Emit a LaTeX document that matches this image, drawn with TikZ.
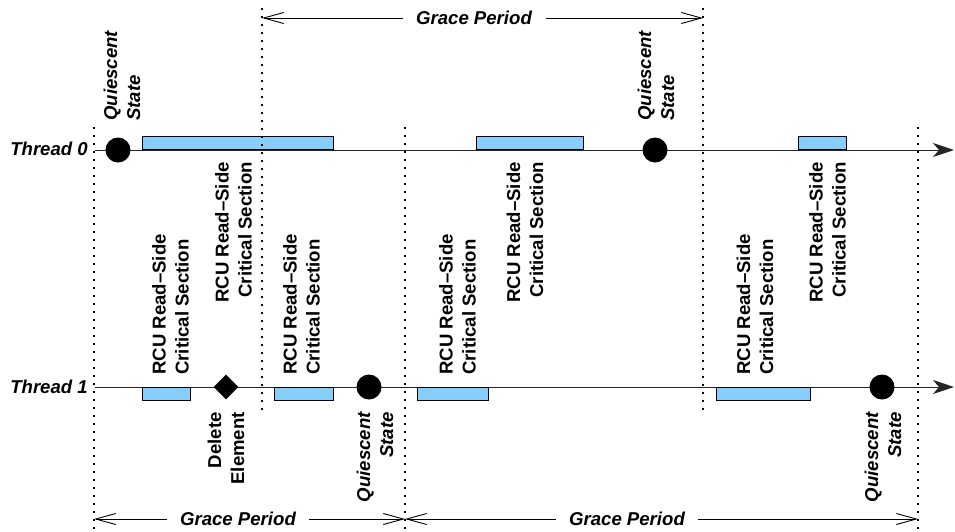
\documentclass[tikz,border=0pt]{standalone}
\usepackage{fontspec}
\setmainfont{Liberation Sans}
\usetikzlibrary{arrows.meta,shapes.geometric}
\definecolor{rcublue}{RGB}{135,206,250}

\begin{document}
\begin{tikzpicture}[x=1pt,y=-1pt,
  txt/.style={font=\fontsize{18.6}{23}\selectfont\bfseries, inner sep=0pt},
  itxt/.style={font=\fontsize{18.6}{23}\selectfont\bfseries\itshape, inner sep=0pt},
  timeline/.style={line width=1pt, draw=black!85, -{Stealth[length=21pt,width=14pt,inset=6pt]}},
  guide/.style={line width=1.8pt, dash pattern=on 1.6pt off 6.4pt},
  period/.style={line width=0.9pt, -{Straight Barb[length=20pt,width=11pt,line width=0.9pt]}},
  section/.style={draw, line width=0.9pt, fill=rcublue, minimum height=13pt, inner sep=0pt},
  qstate/.style={circle, fill=black, minimum size=25pt, inner sep=0pt},
  delete/.style={diamond, fill=black, minimum size=25pt, inner sep=0pt},
  upperlbl/.style={txt, rotate=90, anchor=east, align=right},
  lowerlbl/.style={txt, rotate=90, anchor=west, align=left}]

\useasboundingbox (0,0) rectangle (955,531);

% thread time lines
\node[itxt, anchor=east] (t0) at (88,149) {Thread 0};
\node[itxt, anchor=east] (t1) at (88,387) {Thread 1};
\coordinate (t0end) at (954,150);
\coordinate (t1end) at (954,387);
\draw[timeline, shorten <=7pt] (t0.east |- t0end) -- (t0end);
\draw[timeline, shorten <=7pt] (t1.east |- t1end) -- (t1end);

% read-side critical sections on thread 0 (above the line)
\node[section, minimum width=191pt, anchor=south west] (s0a) at (142,150) {};
\node[section, minimum width=107pt, anchor=south west] (s0b) at (476,150) {};
\node[section, minimum width=48pt,  anchor=south west] (s0c) at (798,150) {};

% read-side critical sections on thread 1 (below the line)
\node[section, minimum width=48pt, anchor=north west] (s1a) at (142,387) {};
\node[section, minimum width=59pt, anchor=north west] (s1b) at (274,387) {};
\node[section, minimum width=71pt, anchor=north west] (s1c) at (417,387) {};
\node[section, minimum width=94pt, anchor=north west] (s1d) at (716,387) {};

% quiescent states and the deletion
\node[qstate] (q0a) at (118,150) {};
\node[qstate] (q0b) at (655,150) {};
\node[qstate] (q1a) at (369,387) {};
\node[qstate] (q1b) at (882,387) {};
\node[delete] (del) at (226,387) {};

% labels of the events
\node[itxt, rotate=90, anchor=west, align=left] (lq0a) at (122,121) {Quiescent\\State};
\node[itxt, rotate=90, anchor=west, align=left] (lq0b) at (656,121) {Quiescent\\State};
\node[itxt, rotate=90, anchor=east, align=right] (lq1a) at (375,412) {Quiescent\\State};
\node[itxt, rotate=90, anchor=east, align=right] (lq1b) at (883,412) {Quiescent\\State};
\node[txt, rotate=90, anchor=east, align=right] (ldel) at (226,412) {Delete\\Element};

% labels of the critical sections
\node[upperlbl] (ls0a) at (233.5,162) {RCU Read–Side\\Critical Section};
\node[upperlbl] (ls0b) at (525,162) {RCU Read–Side\\Critical Section};
\node[upperlbl] (ls0c) at (827.5,162) {RCU Read–Side\\Critical Section};
\node[lowerlbl] (ls1a) at (170.5,375) {RCU Read–Side\\Critical Section};
\node[lowerlbl] (ls1b) at (301.5,375) {RCU Read–Side\\Critical Section};
\node[lowerlbl] (ls1c) at (457.5,375) {RCU Read–Side\\Critical Section};
\node[lowerlbl] (ls1d) at (755,375) {RCU Read–Side\\Critical Section};

% grace period boundaries
\draw[guide] (94,127) -- (94,531);
\draw[guide] (262,8) -- (262,412);
\draw[guide] (405,127) -- (405,531);
\draw[guide] (703,8) -- (703,412);
\draw[guide] (918,127) -- (918,531);

% grace periods
\coordinate (gpA) at (262,18);
\coordinate (gpB) at (703,18);
\coordinate (gpC) at (94,519);
\coordinate (gpD) at (405,519);
\coordinate (gpE) at (918,519);
\node[itxt] (g0) at (474,18) {Grace Period};
\node[itxt] (g1) at (238,519) {Grace Period};
\node[itxt] (g2) at (627,519) {Grace Period};
\draw[period, shorten <=13pt] (g0.west) -- (gpA);
\draw[period, shorten <=14pt] (g0.east) -- (gpB);
\draw[period, shorten <=13pt] (g1.west) -- (gpC);
\draw[period, shorten <=13pt] (g1.east) -- (gpD);
\draw[period, shorten <=13pt] (g2.west) -- (gpD);
\draw[period, shorten <=13pt] (g2.east) -- (gpE);
\end{tikzpicture}
\end{document}
